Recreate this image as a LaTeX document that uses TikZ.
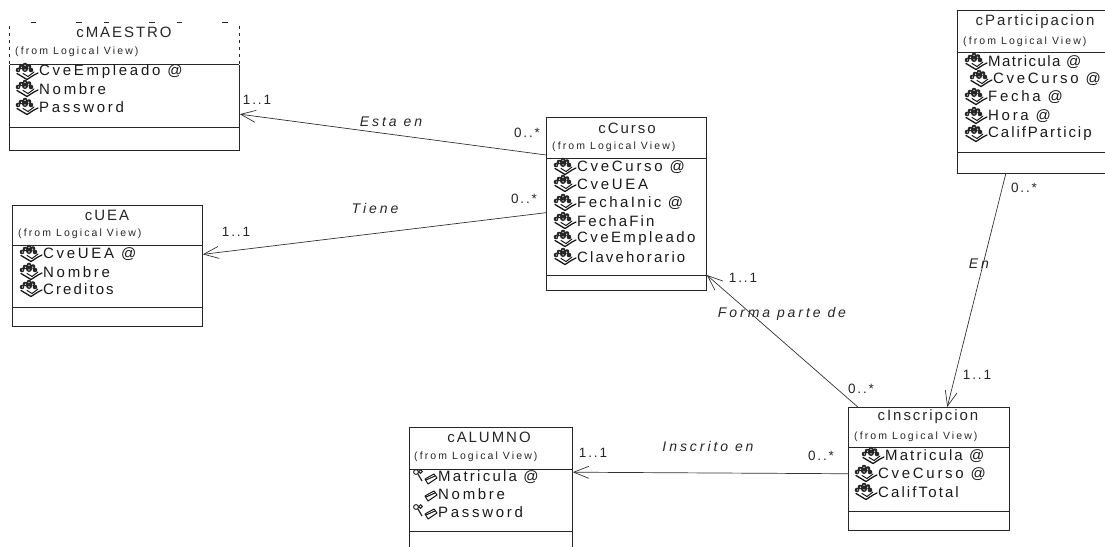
\documentclass[tikz,border=0pt]{standalone}
\usepackage{fontspec}
\setmainfont{Liberation Sans}
\usetikzlibrary{arrows.meta}
\newcommand{\lspc}[1]{\addfontfeatures{LetterSpace=#1}}
\tikzset{
  x=1pt,y=-1pt,
  part/.style={draw=black!85,line width=0.8pt,inner sep=0pt,anchor=north west},
  titletxt/.style={font=\fontsize{15}{16}\selectfont\addfontfeatures{LetterSpace=13},inner sep=0pt,text=black!85},
  fromtxt/.style={font=\fontsize{10.5}{11}\selectfont\addfontfeatures{LetterSpace=20},inner sep=0pt,anchor=west,text=black!85},
  attrtxt/.style={font=\fontsize{15}{16}\selectfont\addfontfeatures{LetterSpace=18},inner sep=0pt,anchor=west,text=black!90},
  multtxt/.style={font=\fontsize{13.5}{14}\selectfont\addfontfeatures{LetterSpace=14},inner sep=0pt,text=black!85},
  roletxt/.style={font=\fontsize{14}{15}\selectfont\itshape\addfontfeatures{LetterSpace=21},inner sep=0pt,text=black!85},
  assoc/.style={draw=black!80,line width=0.7pt,-{Straight Barb[length=15pt,width=12pt,line width=0.7pt]}},
  fade/.style={draw=white,line width=1.6pt,dash pattern=on 22pt off 5pt on 40pt off 6pt},
  pics/paw/.style={code={
    \fill[black!85] (-21,-2) circle (2.3) (-18,-5) circle (2.3) (-14,-7) circle (2.3) (-10,-5.5) circle (2.3) (-8,-2) circle (2.3) (-14,-3) circle (3);
    \fill[white] (-20.5,-2) circle (.7) (-17.5,-4.8) circle (.7) (-14,-6.6) circle (.7) (-10.3,-4.8) circle (.7) (-14,-2.2) circle (.7);
    \draw[black!90,line width=1.3pt,line cap=round,line join=round] (-22,1.5) -- (-12,7.5) -- (-5,3) -- (-1,1);
    \draw[black!90,line width=1pt,line cap=round] (-16,1.5) -- (-11,4.5) -- (-5,0);
  }},
  pics/keybook/.style={code={
    \draw[black!85,line width=1pt] (-22,-5) circle (2.4) (-17.5,-5.5) circle (1.8);
    \draw[black!85,line width=1.2pt] (-20,-3) -- (-16,4);
    \draw[black!90,line width=1pt,line join=round] (-13,2) -- (-4,-3) -- (-1,1) -- (-10,7) -- cycle;
    \draw[black!90,line width=1pt] (-12,3) -- (-3,-1);
  }},
  pics/bookonly/.style={code={
    \draw[black!90,line width=1pt,line join=round] (-13,2) -- (-4,-3) -- (-1,1) -- (-10,7) -- cycle;
    \draw[black!90,line width=1pt] (-12,3) -- (-3,-1);
  }}
}
% name, x, y of the text's left end, text, icon
\newcommand{\attr}[5]{%
  \pic at (#2,#3) {#5};
  \node[attrtxt] (#1) at (#2,#3) {#4};}
% name, x1, x2, y1, y2, y3, y4
\newcommand{\umlclass}[7]{%
  \pgfmathsetmacro{\cw}{#3-#2}%
  \node[part,minimum width=\cw pt,minimum height={(#5-#4)*1pt}] (#1-h) at (#2,#4) {};
  \node[part,minimum width=\cw pt,minimum height={(#6-#5)*1pt}] (#1-a) at (#2,#5) {};
  \node[part,minimum width=\cw pt,minimum height={(#7-#6)*1pt}] (#1-o) at (#2,#6) {};}
\begin{document}
\begin{tikzpicture}
\useasboundingbox (0,0) rectangle (1105,546);
\clip (0,0) rectangle (1105,546);

% cMAESTRO
\umlclass{cMaestro}{9}{239}{22}{64}{127}{150}
\draw[fade] (cMaestro-h.north west) -- (cMaestro-h.north east);
\draw[fade,dash pattern=on 4pt off 3pt] (cMaestro-h.north west) -- (cMaestro-h.south west);
\draw[fade,dash pattern=on 4pt off 3pt] (cMaestro-h.north east) -- (cMaestro-h.south east);
\node[titletxt] (tM) at (124,32) {cMAESTRO};
\node[fromtxt] (fM) at (15,52) {(from Logical View)};
\attr{m1}{39}{72}{CveEmpleado @}{paw}
\attr{m2}{39}{89}{Nombre}{paw}
\attr{m3}{39}{107}{Password}{paw}

% cUEA
\umlclass{cUEA}{12}{202}{205}{245}{307}{326}
\node[titletxt] (tU) at (107,215) {cUEA};
\node[fromtxt] (fU) at (18,234) {(from Logical View)};
\attr{u1}{43}{254}{CveUEA @}{paw}
\attr{u2}{43}{272}{Nombre}{paw}
\attr{u3}{43}{289}{\lspc{14}Creditos}{paw}

% cCurso
\umlclass{cCurso}{546}{706}{117}{158}{275}{290}
\node[titletxt] (tC) at (627,128) {cCurso};
\node[fromtxt] (fC) at (552,147) {(from Logical View)};
\attr{c1}{577}{167}{CveCurso @}{paw}
\attr{c2}{577}{184}{CveUEA}{paw}
\attr{c3}{577}{203}{\lspc{16}FechaInic @}{paw}
\attr{c4}{577}{221}{\lspc{14}FechaFin}{paw}
\attr{c5}{577}{239}{\lspc{16}CveEmpleado}{paw}
\attr{c6}{577}{257}{\lspc{14}Clavehorario}{paw}

% cParticipacion
\umlclass{cPart}{957}{1125}{10}{52}{152}{173}
\node[titletxt] (tP) at (1035,22) {cParticipacion};
\node[fromtxt] (fP) at (963,42) {(from Logical View)};
\attr{p1}{988}{62}{\lspc{9.5}Matricula @}{paw}
\attr{p2}{993}{79}{CveCurso @}{paw}
\attr{p3}{988}{97}{Fecha @}{paw}
\attr{p4}{988}{116}{Hora @}{paw}
\attr{p5}{988}{134}{\lspc{13}CalifParticip}{paw}

% cInscripcion
\umlclass{cInsc}{848}{1009}{407}{447}{511}{530}
\node[titletxt] (tI) at (928,417) {cInscripcion};
\node[fromtxt] (fI) at (854,437) {(from Logical View)};
\attr{i1}{885}{456}{\lspc{14}Matricula @}{paw}
\attr{i2}{878}{474}{CveCurso @}{paw}
\attr{i3}{878}{492}{\lspc{14}CalifTotal}{paw}

% cALUMNO
\umlclass{cAlum}{409}{572}{427}{469}{531}{560}
\node[titletxt] (tA) at (489,437) {cALUMNO};
\node[fromtxt] (fA) at (414,457) {(from Logical View)};
\attr{a1}{438}{477}{\lspc{15}Matricula @}{keybook}
\attr{a2}{438}{494}{Nombre}{bookonly}
\attr{a3}{438}{512}{Password}{keybook}

% connectors
\draw[assoc] (cCurso-h.192.3) -- (cMaestro-a.-9.7);
\draw[assoc] (cCurso-a.177.5) -- (cUEA-a.13);
\draw[assoc] (cInsc-h.164) -- (cCurso-o.north east);
\draw[assoc] (cPart-o.197.9) -- (cInsc-h.48);
\draw[assoc] (cInsc-a.176.1) -- (cAlum-a.19.7);

% role names
\node[roletxt] (r1) at (391,122) {Esta en};
\node[roletxt] (r2) at (375,208) {Tiene};
\node[roletxt] (r3) at (782,314) {Forma parte de};
\node[roletxt] (r4) at (979,264) {En};
\node[roletxt] (r5) at (708,446) {Inscrito en};

% multiplicities
\node[multtxt] (k1) at (257,100) {1..1};
\node[multtxt] (k2) at (527,133) {0..*};
\node[multtxt] (k3) at (236,232) {1..1};
\node[multtxt] (k4) at (524,199) {0..*};
\node[multtxt] (k5) at (1024,188) {0..*};
\node[multtxt] (k6) at (743,278) {1..1};
\node[multtxt] (k7) at (861,389) {0..*};
\node[multtxt] (k8) at (977,375) {1..1};
\node[multtxt] (k9) at (593,453) {1..1};
\node[multtxt] (k10) at (821,456) {0..*};
\end{tikzpicture}
\end{document}
